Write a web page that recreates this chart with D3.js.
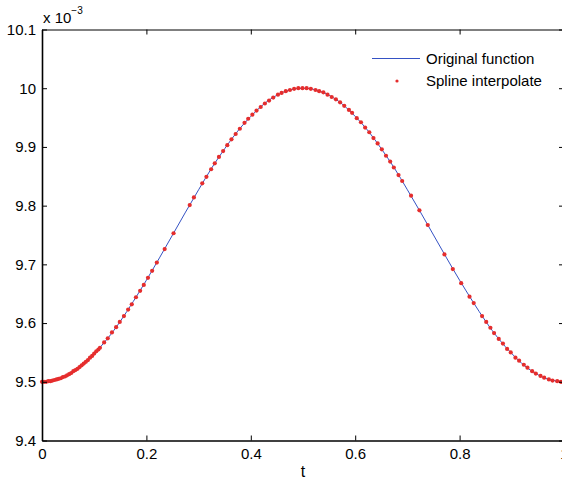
<!DOCTYPE html>
<html>
<head>
<meta charset="utf-8">
<script src="https://cdn.jsdelivr.net/npm/d3@7"></script>
<style>
  body { margin: 0; background: #fff; }
  svg { display: block; font-family: "Liberation Sans", Arial, sans-serif; }
  .axis path, .axis line { stroke: #000; }
  .axis text { fill: #000; font-size: 15px; }
</style>
</head>
<body>
<div id="chart"></div>
<script>
// values are in units of 1e-3
const xTicks = [0, 0.2, 0.4, 0.6, 0.8, 1];
const xTickLabels = ['0', '0.2', '0.4', '0.6', '0.8', '1'];
const yTicks = [9.4, 9.5, 9.6, 9.7, 9.8, 9.9, 10, 10.1];
const yTickLabels = ['9.4', '9.5', '9.6', '9.7', '9.8', '9.9', '10', '10.1'];

// original function
const lineT = [0, 0.025, 0.05, 0.075, 0.1, 0.125, 0.15, 0.175, 0.2, 0.225, 0.25,
  0.275, 0.3, 0.325, 0.35, 0.375, 0.4, 0.425, 0.45, 0.475, 0.5,
  0.525, 0.55, 0.575, 0.6, 0.625, 0.65, 0.675, 0.7, 0.725, 0.75,
  0.775, 0.8, 0.825, 0.85, 0.875, 0.9, 0.925, 0.95, 0.975, 1];
const lineY = [9.5, 9.503, 9.512, 9.527, 9.548, 9.573, 9.603, 9.637, 9.673, 9.711, 9.75,
  9.789, 9.827, 9.864, 9.897, 9.927, 9.952, 9.973, 9.988, 9.997, 10.0,
  9.997, 9.988, 9.973, 9.952, 9.927, 9.897, 9.864, 9.827, 9.789, 9.75,
  9.711, 9.673, 9.637, 9.603, 9.573, 9.548, 9.527, 9.512, 9.503, 9.5];

// spline interpolate markers
const dotT = [0, 0.004, 0.008, 0.012, 0.016, 0.02, 0.024, 0.028, 0.032, 0.036,
  0.04, 0.044, 0.048, 0.052, 0.056, 0.06, 0.064, 0.068, 0.072, 0.076,
  0.08, 0.084, 0.088, 0.092, 0.096, 0.1, 0.104, 0.108,
  0.111, 0.119, 0.126, 0.134, 0.142, 0.149, 0.157, 0.165, 0.172, 0.18,
  0.188, 0.195, 0.203, 0.211, 0.22, 0.235, 0.252, 0.283, 0.291, 0.307,
  0.315, 0.324, 0.331, 0.339, 0.347, 0.355, 0.363, 0.371, 0.379, 0.388,
  0.395, 0.403, 0.411, 0.419, 0.427, 0.435, 0.443, 0.452, 0.459, 0.467,
  0.475, 0.483, 0.491, 0.499, 0.507, 0.515, 0.524, 0.531, 0.539, 0.547,
  0.555, 0.563, 0.571, 0.579, 0.588, 0.594, 0.603, 0.611, 0.619, 0.627,
  0.635, 0.643, 0.651, 0.659, 0.667, 0.674, 0.683, 0.69, 0.707, 0.723,
  0.739, 0.771, 0.787, 0.803, 0.819, 0.827, 0.843, 0.851, 0.859, 0.866,
  0.875, 0.883, 0.891, 0.898, 0.907, 0.914, 0.923, 0.93, 0.939, 0.946,
  0.955, 0.962, 0.971, 0.978, 0.987, 0.994];
const dotY = [9.5, 9.5, 9.5, 9.501, 9.501, 9.502, 9.503, 9.504, 9.505, 9.506,
  9.508, 9.509, 9.511, 9.513, 9.515, 9.518, 9.52, 9.522, 9.525, 9.528,
  9.531, 9.534, 9.537, 9.541, 9.544, 9.548, 9.552, 9.555,
  9.558, 9.567, 9.574, 9.584, 9.593, 9.602, 9.612, 9.623, 9.632, 9.644,
  9.655, 9.665, 9.677, 9.689, 9.703, 9.726, 9.753, 9.801, 9.814, 9.838,
  9.849, 9.862, 9.872, 9.883, 9.893, 9.903, 9.913, 9.922, 9.931, 9.941,
  9.948, 9.955, 9.962, 9.968, 9.974, 9.979, 9.984, 9.989, 9.992, 9.995,
  9.997, 9.999, 10.0, 10.0, 10.0, 9.999, 9.997, 9.995, 9.993, 9.989,
  9.985, 9.981, 9.976, 9.97, 9.963, 9.958, 9.949, 9.942, 9.933, 9.925,
  9.915, 9.906, 9.896, 9.885, 9.875, 9.865, 9.852, 9.842, 9.817, 9.792,
  9.767, 9.717, 9.692, 9.668, 9.645, 9.634, 9.612, 9.602, 9.592, 9.583,
  9.573, 9.565, 9.556, 9.55, 9.541, 9.536, 9.529, 9.524, 9.518, 9.514,
  9.51, 9.507, 9.504, 9.502, 9.501, 9.5];

const legendLabels = ['Original function', 'Spline interpolate'];

const width = 562, height = 482;
const plotLeft = 42, plotRight = 564, plotTop = 29.5, plotBottom = 440.5;

const x = d3.scaleLinear().domain([0, 1]).range([plotLeft, plotRight]);
const y = d3.scaleLinear().domain([9.4, 10.1]).range([plotBottom, plotTop]);

const svg = d3.select('#chart').append('svg')
    .attr('width', width)
    .attr('height', height);

// curve
const line = d3.line()
    .x((d, i) => x(lineT[i]))
    .y(d => y(d))
    .curve(d3.curveNatural);

svg.append('path')
    .datum(lineY)
    .attr('d', line)
    .attr('fill', 'none')
    .attr('stroke', '#3552c4')
    .attr('stroke-width', 1);

svg.append('g')
  .selectAll('circle')
  .data(dotY)
  .enter().append('circle')
    .attr('cx', (d, i) => x(dotT[i]))
    .attr('cy', d => y(d))
    .attr('r', 2.1)
    .style('fill', '#e52d2d');

// axes, matlab style ticks pointing in
const xAxis = svg.append('g')
    .attr('class', 'axis')
    .attr('transform', `translate(0,${plotBottom})`)
    .call(d3.axisBottom(x).tickValues(xTicks)
      .tickFormat((d, i) => xTickLabels[i])
      .tickSizeInner(-5).tickSizeOuter(0).tickPadding(8));
xAxis.select('.domain').attr('stroke-width', 1.6);

const yAxis = svg.append('g')
    .attr('class', 'axis')
    .attr('transform', `translate(${plotLeft},0)`)
    .call(d3.axisLeft(y).tickValues(yTicks)
      .tickFormat((d, i) => yTickLabels[i])
      .tickSizeInner(-5).tickSizeOuter(0).tickPadding(6));
yAxis.select('.domain').attr('stroke-width', 1.6);

svg.append('g')
    .attr('class', 'axis')
    .attr('transform', `translate(0,${plotTop})`)
    .call(d3.axisTop(x).tickValues(xTicks).tickFormat('')
      .tickSizeInner(-5).tickSizeOuter(0));

svg.append('g')
    .attr('class', 'axis')
    .attr('transform', `translate(${plotRight},0)`)
    .call(d3.axisRight(y).tickValues(yTicks).tickFormat('')
      .tickSizeInner(-5).tickSizeOuter(0));

// axis label and exponent
svg.append('text')
    .attr('x', x(0.5))
    .attr('y', 477)
    .attr('text-anchor', 'middle')
    .style('font-size', '16px')
    .text('t');

const expo = svg.append('text')
    .attr('x', 43)
    .attr('y', 23)
    .style('font-size', '15px');
expo.append('tspan').text('x 10');
expo.append('tspan')
    .attr('dy', -9)
    .style('font-size', '10px')
    .text('\u22123');

// legend
const legend = svg.append('g');
legend.append('line')
    .attr('x1', 372).attr('x2', 420)
    .attr('y1', 58.5).attr('y2', 58.5)
    .attr('stroke', '#3552c4')
    .attr('stroke-width', 1);
legend.append('circle')
    .attr('cx', 397).attr('cy', 81)
    .attr('r', 1.6)
    .style('fill', '#e52d2d');
legend.selectAll('text')
  .data(legendLabels)
  .enter().append('text')
    .attr('x', 426)
    .attr('y', (d, i) => 63.5 + i * 22)
    .style('font-size', '15px')
    .text(d => d);
</script>
</body>
</html>
